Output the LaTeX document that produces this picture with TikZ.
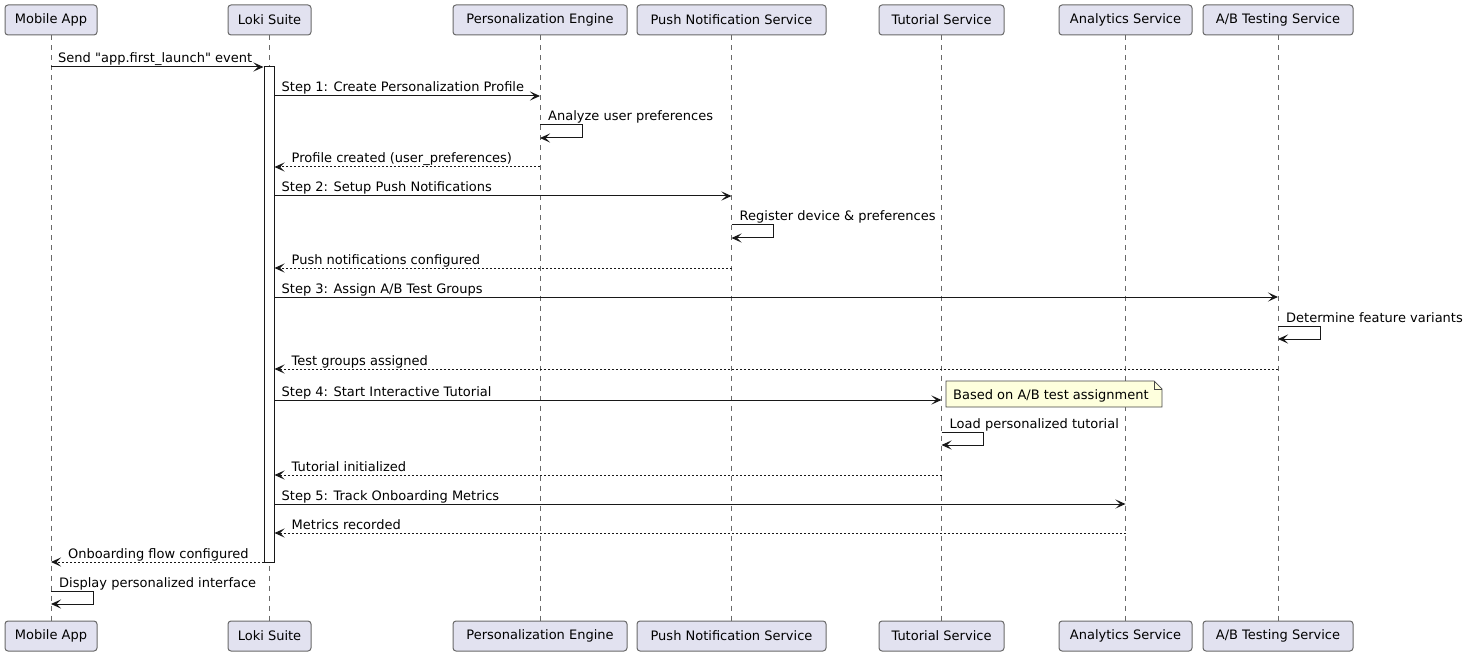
\documentclass[tikz,border=0pt]{standalone}
\usepackage{fontspec}
\setmainfont{DejaVu Sans}
\newfontfamily\umlfont{DejaVu Sans}
\usepackage{tikz}
\usetikzlibrary{calc}
\usetikzlibrary{arrows.meta}
\definecolor{partfill}{HTML}{E2E2F0}
\definecolor{partdraw}{HTML}{181818}
\definecolor{notefill}{HTML}{FEFFDD}
\tikzset{
  actor/.style={draw=partdraw!65, fill=partfill, line width=1pt, rounded corners=3pt, minimum height=30pt, inner sep=0pt},
  lifeline/.style={draw=partdraw!65, line width=0.8pt, dash pattern=on 5pt off 5pt},
  callline/.style={draw=partdraw, line width=1pt, -{Stealth[length=10pt,width=9pt,inset=4.5pt]}},
  replyline/.style={callline, dash pattern=on 2pt off 2pt},
  lbl/.style={inner sep=0pt, anchor=base west},
  bar/.style={draw=partdraw, fill=white, line width=1pt, minimum width=10pt, inner sep=0pt}
}
\newcommand{\actor}[4]{ \node[actor, minimum width=#3] (#1) at (#2,20) {#4}; \node[actor, minimum width=#3] (#1b) at (#2,636) {#4}; }
\newcommand{\lifeline}[1]{ \draw[lifeline] (#1.south) -- (#1b.north); }
\newcommand{\call}[4]{ \coordinate (y#1) at (0,#1); \draw[callline] (#2 |- y#1) -- (#3 |- y#1); \node[lbl, xshift=7pt, yshift=4pt] (t#1) at (#2 |- y#1) {#4}; }
\newcommand{\reply}[4]{ \coordinate (y#1) at (0,#1); \draw[replyline] (#2 |- y#1) -- (#3 |- y#1); \node[lbl, xshift=17pt, yshift=4pt] (t#1) at (#3 |- y#1) {#4}; }
\newcommand{\selfcall}[3]{ \coordinate (y#1) at (0,#1); \draw[callline] (#2 |- y#1) -| ++(42,13) -- ++(-42,0); \node[lbl, xshift=8pt, yshift=4pt] (t#1) at (#2 |- y#1) {#3}; }

\begin{document}
\begin{tikzpicture}[x=1pt, y=-1pt, font=\umlfont\fontsize{13}{16}\selectfont]
        \useasboundingbox (0,0) rectangle (1467,655);

        % participants
        \actor{app}{51}{92pt}{Mobile App}
        \actor{loki}{269.5}{83pt}{Loki Suite}
        \actor{pers}{540}{174pt}{Personalization Engine}
        \actor{push}{731.5}{189pt}{Push Notification Service}
        \actor{tut}{941.5}{125pt}{Tutorial Service}
        \actor{ana}{1125.5}{133pt}{Analytics Service}
        \actor{ab}{1278}{150pt}{A/B Testing Service}

        % lifelines
        \lifeline{app}
        \lifeline{loki}
        \lifeline{pers}
        \lifeline{push}
        \lifeline{tut}
        \lifeline{ana}
        \lifeline{ab}

        % activation
        \node[bar, minimum height=495pt] (act) at (269,314.5) {};

        % messages
        \call{67}{app}{act.west}{Send "app.first\_launch" event}
        \call{96}{act.east}{pers}{Step 1: Create Personalization Profile}
        \selfcall{125}{pers}{Analyze user preferences}
        \reply{167}{pers}{act.east}{Profile created (user\_preferences)}

        \call{196}{act.east}{push}{Step 2: Setup Push Notifications}
        \selfcall{225}{push}{Register device \& preferences}
        \reply{268}{push}{act.east}{Push notifications configured}

        \call{297}{act.east}{ab}{Step 3: Assign A/B Test Groups}
        \selfcall{326}{ab}{Determine feature variants}
        \reply{369}{ab}{act.east}{Test groups assigned}

        \call{400}{act.east}{tut}{Step 4: Start Interactive Tutorial}
        % note
        \draw[draw=partdraw!80, fill=notefill, line width=0.7pt] (946,381) -- (1154,381) -- (1162,389) -- (1162,407) -- (946,407) -- cycle;
        \draw[draw=partdraw!80, line width=0.7pt] (1154,381) -- (1154,389) -- (1162,389);
        \node[lbl] (note) at (953,399) {Based on A/B test assignment};
        \selfcall{432}{tut}{Load personalized tutorial}
        \reply{475}{tut}{act.east}{Tutorial initialized}

        \call{504}{act.east}{ana}{Step 5: Track Onboarding Metrics}
        \reply{533}{ana}{act.east}{Metrics recorded}

        \reply{562}{act.west}{app}{Onboarding flow configured}
        \selfcall{591}{app}{Display personalized interface}

    \end{tikzpicture}
\end{document}
